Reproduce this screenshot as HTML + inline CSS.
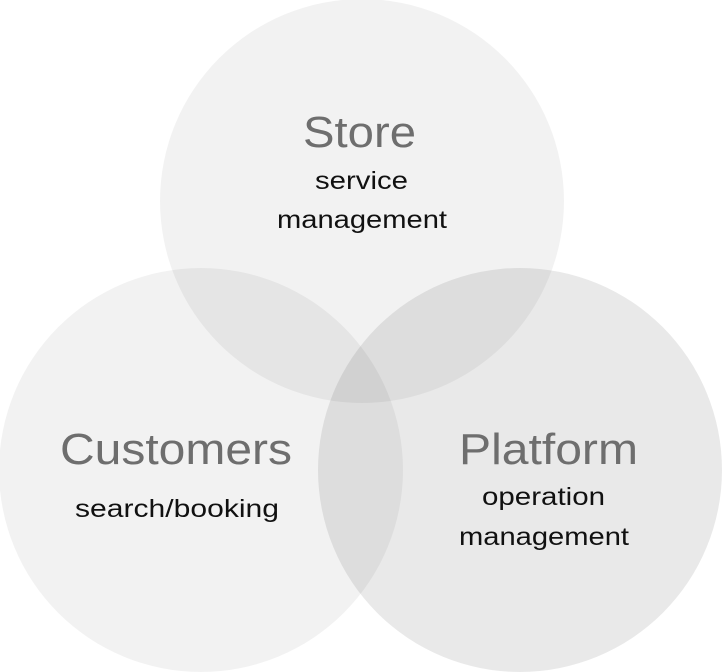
<!DOCTYPE html>
<html><head><style>html,body{margin:0;padding:0;background:#fff;}svg{display:block}</style></head>
<body>
<svg width="722" height="672" viewBox="0 0 722 672" xmlns="http://www.w3.org/2000/svg" font-family="'Liberation Sans', sans-serif">
<circle cx="362" cy="201" r="202" fill="rgba(0,0,0,0.05)"/>
<circle cx="201" cy="470" r="202" fill="rgba(0,0,0,0.05)"/>
<circle cx="520" cy="470" r="202" fill="rgba(0,0,0,0.085)"/>
<g>
<text x="303" y="147" font-size="44" fill="#6e6e6e" textLength="113" lengthAdjust="spacingAndGlyphs">Store</text>
<text x="315" y="189" font-size="25" fill="#111" textLength="93" lengthAdjust="spacingAndGlyphs">service</text>
<text x="277" y="228" font-size="25" fill="#111" textLength="170" lengthAdjust="spacingAndGlyphs">management</text>
<text x="60" y="464" font-size="44" fill="#6e6e6e" textLength="232" lengthAdjust="spacingAndGlyphs">Customers</text>
<text x="75" y="517" font-size="25" fill="#111" textLength="204" lengthAdjust="spacingAndGlyphs">search/booking</text>
<text x="459" y="464" font-size="44" fill="#6e6e6e" textLength="179" lengthAdjust="spacingAndGlyphs">Platform</text>
<text x="482" y="505" font-size="25" fill="#111" textLength="123" lengthAdjust="spacingAndGlyphs">operation</text>
<text x="459" y="545" font-size="25" fill="#111" textLength="170" lengthAdjust="spacingAndGlyphs">management</text>
</g>
</svg>
</body></html>
